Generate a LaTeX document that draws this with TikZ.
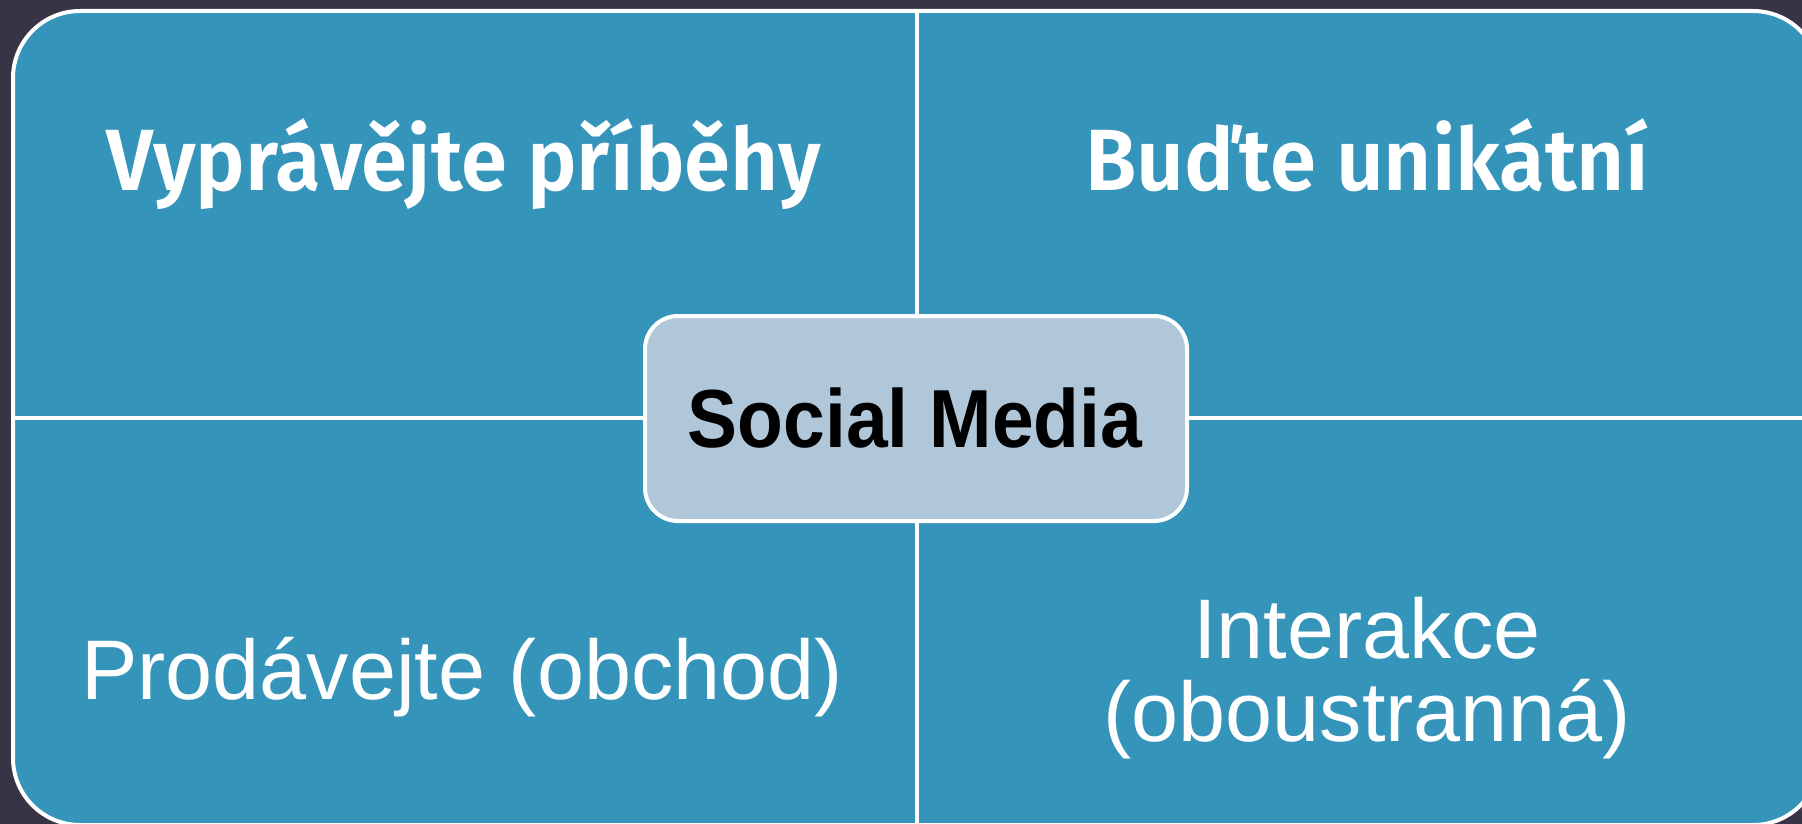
\documentclass[tikz,border=0pt]{standalone}
\usepackage{fontspec}
\setmainfont{Liberation Sans}
\newfontfamily\topfont{Fira Sans SemiBold}[FakeStretch=0.957]
\newfontfamily\midfont{Liberation Sans}[FakeStretch=0.91]
\definecolor{bgdark}{HTML}{383345}
\definecolor{tealfill}{HTML}{3594B9}
\definecolor{corefill}{HTML}{B0C7DA}
\tikzset{
  framebox/.style={draw=white, line width=4pt, fill=tealfill, rounded corners=67pt,
    minimum width=1807pt, minimum height=814pt, inner sep=0pt},
  divider/.style={draw=white, line width=4pt},
  corebox/.style={draw=white, line width=4pt, fill=corefill, rounded corners=33pt,
    minimum width=542pt, minimum height=205pt, inner sep=0pt},
  toplabel/.style={text=white, anchor=base, inner sep=0pt, font=\topfont\fontsize{87}{100}\selectfont},
  botlabel/.style={text=white, anchor=base, inner sep=0pt, font=\fontsize{84.6}{100}\selectfont},
  corelabel/.style={text=black, anchor=base, inner sep=0pt, font=\midfont\bfseries\fontsize{82.4}{100}\selectfont},
}
\begin{document}
\begin{tikzpicture}[x=1pt, y=-1pt]
\useasboundingbox (0,0) rectangle (1802,824);
\fill[bgdark] (0,0) rectangle (1802,824);
\clip (0,0) rectangle (1802,824);
\node[framebox] (frame) at (916.5,418) {};
\draw[divider] (frame.north) -- (frame.south);
\draw[divider] (frame.west) -- (frame.east);
\node[corebox] (core) at (916,418.5) {};
\node[corelabel] (corelab) at (915,447) {Social Media};
\node[toplabel] (tl) at (464,190) {Vyprávějte příběhy};
\node[toplabel] (tr) at (1367,190) {Buďte unikátní};
\node[botlabel] (bl) at (462,699) {Prodávejte (obchod)};
\node[botlabel] (br1) at (1367,658) {Interakce};
\node[botlabel] (br2) at (1367,741) {(oboustranná)};
\end{tikzpicture}
\end{document}
